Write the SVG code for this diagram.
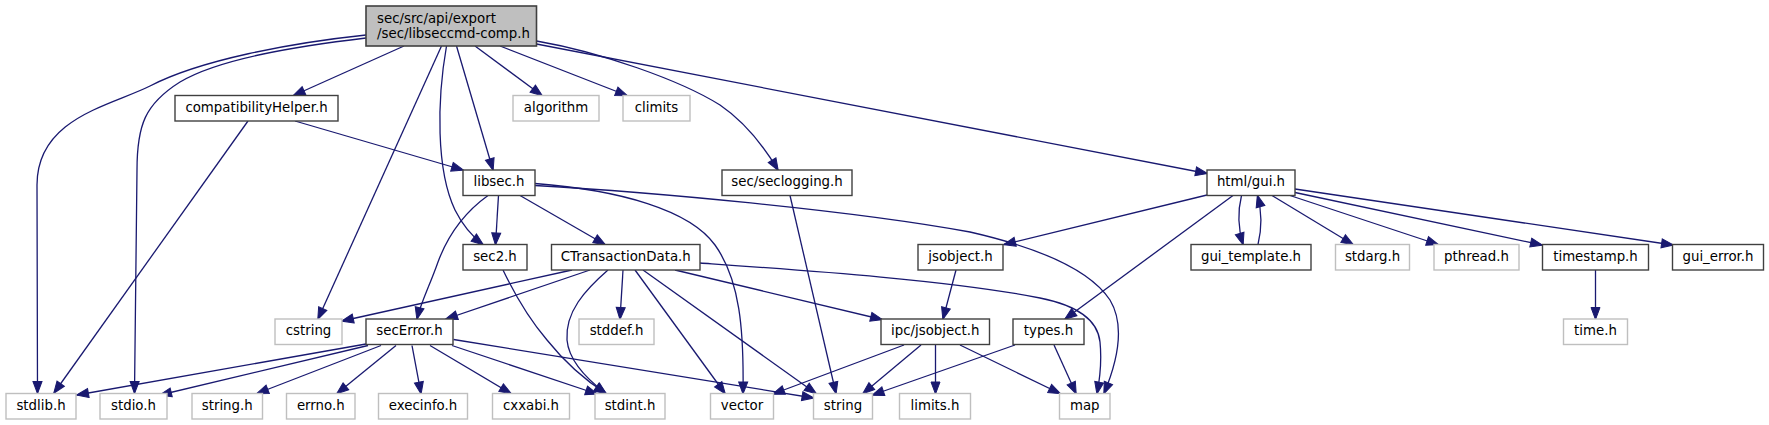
<svg xmlns="http://www.w3.org/2000/svg" width="1769" height="425" viewBox="0 0 1769 425">
<style>
.n rect{fill:#ffffff;stroke:#404040;stroke-width:1.4}
.g rect{fill:#ffffff;stroke:#bfbfbf;stroke-width:1.4}
.m rect{fill:#bfbfbf;stroke:#404040;stroke-width:1.6}
text{font-family:"DejaVu Sans","Liberation Sans",sans-serif;font-size:13.33px;fill:#000000;text-anchor:middle}
.m text{text-anchor:start}
#edges path{fill:none;stroke:#191970;stroke-width:1.3;marker-end:url(#ah)}
</style>
<defs>
<marker id="ah" markerUnits="userSpaceOnUse" markerWidth="14" markerHeight="12" refX="11.5" refY="4.5" orient="auto" overflow="visible">
<path d="M0,0 L12,4.5 L0,9 z" fill="#191970" stroke="#191970" stroke-width="1"/>
</marker>
</defs>
<rect width="1769" height="425" fill="#ffffff"/>
<g id="edges">
<path d="M366,35 C290,43 200,60 150,86 C110,106 37,118 37,185 L37.5,393"/>
<path d="M366,38 C300,46 220,58 180,82 C145,104 137,125 137,170 L134.5,393"/>
<path d="M404,46 L293.5,95.5"/>
<path d="M441.5,46 L318,319"/>
<path d="M446.5,46 C437,100 436,170 455,210 C463,226 473,237 483,244.5"/>
<path d="M456.5,46 L493,170"/>
<path d="M475,46 L542,95.5"/>
<path d="M500,46 L627,95.5"/>
<path d="M536.5,41 C600,52 680,80 720,105 C745,122 763,145 778,170"/>
<path d="M536.5,44 L1207,173.5"/>
<path d="M295,121 L463,170"/>
<path d="M248,121 L54,393"/>
<path d="M498.5,195.5 L495.5,244.5"/>
<path d="M488,195.5 C465,212 448,235 438,262 C430,285 421,302 417,319"/>
<path d="M520,195.5 L605,244.5"/>
<path d="M535,183.5 C620,190 690,210 715,245 C740,280 744,330 743,393.5"/>
<path d="M535,185.5 C650,192 850,210 970,232 C1040,248 1090,270 1110,300 C1125,325 1118,360 1104,393.5"/>
<path d="M790,195.5 L836,393.5"/>
<path d="M1207,195 L1004,244.5"/>
<path d="M1233,195.5 L1065,319"/>
<path d="M1241.5,195.5 C1238,210 1238,228 1243,244.5"/>
<path d="M1258,244.5 C1262,228 1262,212 1257.5,195.5"/>
<path d="M1272,195.5 L1353,244.5"/>
<path d="M1290,195.5 L1438,244.5"/>
<path d="M1295,192.5 L1542,245"/>
<path d="M1295,189 L1673,245"/>
<path d="M503,270 C515,295 530,320 547,340 C563,360 585,380 606,393.5"/>
<path d="M608,270 C585,290 565,312 567,340 C569,362 588,380 606,393.5"/>
<path d="M572,270 L342,321"/>
<path d="M590,270 L446,319"/>
<path d="M623,270 L620,319"/>
<path d="M635,270 L725,393.5"/>
<path d="M643,270 L816,393.5"/>
<path d="M675,270 L882,319.5"/>
<path d="M700,263 C800,270 950,280 1040,298 C1080,306 1098,322 1100,342 C1102,362 1100,378 1097,393.5"/>
<path d="M956,270 L943,319"/>
<path d="M366,344 L77,395"/>
<path d="M368,345.5 L160,395"/>
<path d="M381,345.5 L257,393.5"/>
<path d="M396,345.5 L337,393.5"/>
<path d="M412,345.5 L421,393.5"/>
<path d="M430,345.5 L511,393.5"/>
<path d="M452,345.5 L597,394"/>
<path d="M453.5,339.5 L813.5,398"/>
<path d="M904,345 L773,394"/>
<path d="M921,345 L863,393.5"/>
<path d="M935.5,345 L935.5,393.5"/>
<path d="M960,345 L1060,393.5"/>
<path d="M1015,345 L872.5,395"/>
<path d="M1054,345 L1076,393.5"/>
<path d="M1595.5,270 L1595.5,319"/>
</g>
<g id="main" class="m"><rect x="366" y="6" width="170.5" height="40"/><text x="377" y="22.5">sec/src/api/export</text><text x="377" y="37.5">/sec/libseccmd-comp.h</text></g>
<g id="compatibilityHelper" class="n"><rect x="175" y="95.5" width="163" height="25.5"/><text x="256.5" y="111.8">compatibilityHelper.h</text></g>
<g id="algorithm" class="g"><rect x="513" y="95.5" width="86" height="25.5"/><text x="556" y="111.8">algorithm</text></g>
<g id="climits" class="g"><rect x="623" y="95.5" width="67" height="25.5"/><text x="656.5" y="111.8">climits</text></g>
<g id="libsec" class="n"><rect x="463" y="170" width="72" height="25.5"/><text x="499" y="186.3">libsec.h</text></g>
<g id="seclogging" class="n"><rect x="722" y="170" width="130" height="25.5"/><text x="787" y="186.3">sec/seclogging.h</text></g>
<g id="gui" class="n"><rect x="1207" y="170" width="88" height="25.5"/><text x="1251" y="186.3">html/gui.h</text></g>
<g id="sec2" class="n"><rect x="463" y="244.5" width="64" height="25.5"/><text x="495" y="260.8">sec2.h</text></g>
<g id="CTransactionData" class="n"><rect x="551.5" y="244.5" width="148.5" height="25.5"/><text x="625.75" y="260.8">CTransactionData.h</text></g>
<g id="jsobject" class="n"><rect x="918" y="244.5" width="85" height="25.5"/><text x="960.5" y="260.8">jsobject.h</text></g>
<g id="gui_template" class="n"><rect x="1191" y="244.5" width="120" height="25.5"/><text x="1251" y="260.8">gui_template.h</text></g>
<g id="stdarg" class="g"><rect x="1335.5" y="244.5" width="74" height="25.5"/><text x="1372.5" y="260.8">stdarg.h</text></g>
<g id="pthread" class="g"><rect x="1434" y="244.5" width="85" height="25.5"/><text x="1476.5" y="260.8">pthread.h</text></g>
<g id="timestamp" class="n"><rect x="1542.5" y="244.5" width="106" height="25.5"/><text x="1595.5" y="260.8">timestamp.h</text></g>
<g id="gui_error" class="n"><rect x="1672.5" y="244.5" width="91" height="25.5"/><text x="1718" y="260.8">gui_error.h</text></g>
<g id="cstring" class="g"><rect x="275" y="319" width="67" height="25.5"/><text x="308.5" y="335.3">cstring</text></g>
<g id="secError" class="n"><rect x="366" y="319" width="87" height="25.5"/><text x="409.5" y="335.3">secError.h</text></g>
<g id="stddef" class="g"><rect x="579" y="319" width="75" height="25.5"/><text x="616.5" y="335.3">stddef.h</text></g>
<g id="ipc_jsobject" class="n"><rect x="881" y="319" width="108.5" height="25.5"/><text x="935.25" y="335.3">ipc/jsobject.h</text></g>
<g id="types" class="n"><rect x="1013" y="319" width="71" height="25.5"/><text x="1048.5" y="335.3">types.h</text></g>
<g id="time" class="g"><rect x="1563.5" y="319" width="64" height="25.5"/><text x="1595.5" y="335.3">time.h</text></g>
<g id="stdlib" class="g"><rect x="6" y="393.5" width="70" height="25.5"/><text x="41" y="409.8">stdlib.h</text></g>
<g id="stdio" class="g"><rect x="100" y="393.5" width="67" height="25.5"/><text x="133.5" y="409.8">stdio.h</text></g>
<g id="string_h" class="g"><rect x="192" y="393.5" width="70.5" height="25.5"/><text x="227.25" y="409.8">string.h</text></g>
<g id="errno" class="g"><rect x="286.5" y="393.5" width="68.5" height="25.5"/><text x="320.75" y="409.8">errno.h</text></g>
<g id="execinfo" class="g"><rect x="378.5" y="393.5" width="89" height="25.5"/><text x="423" y="409.8">execinfo.h</text></g>
<g id="cxxabi" class="g"><rect x="492.5" y="393.5" width="77" height="25.5"/><text x="531" y="409.8">cxxabi.h</text></g>
<g id="stdint" class="g"><rect x="595" y="393.5" width="70" height="25.5"/><text x="630" y="409.8">stdint.h</text></g>
<g id="vector" class="g"><rect x="710.5" y="393.5" width="63" height="25.5"/><text x="742" y="409.8">vector</text></g>
<g id="string" class="g"><rect x="813.5" y="393.5" width="59" height="25.5"/><text x="843" y="409.8">string</text></g>
<g id="limits" class="g"><rect x="899.5" y="393.5" width="71" height="25.5"/><text x="935" y="409.8">limits.h</text></g>
<g id="map" class="g"><rect x="1059.5" y="393.5" width="50.5" height="25.5"/><text x="1084.75" y="409.8">map</text></g>
</svg>
